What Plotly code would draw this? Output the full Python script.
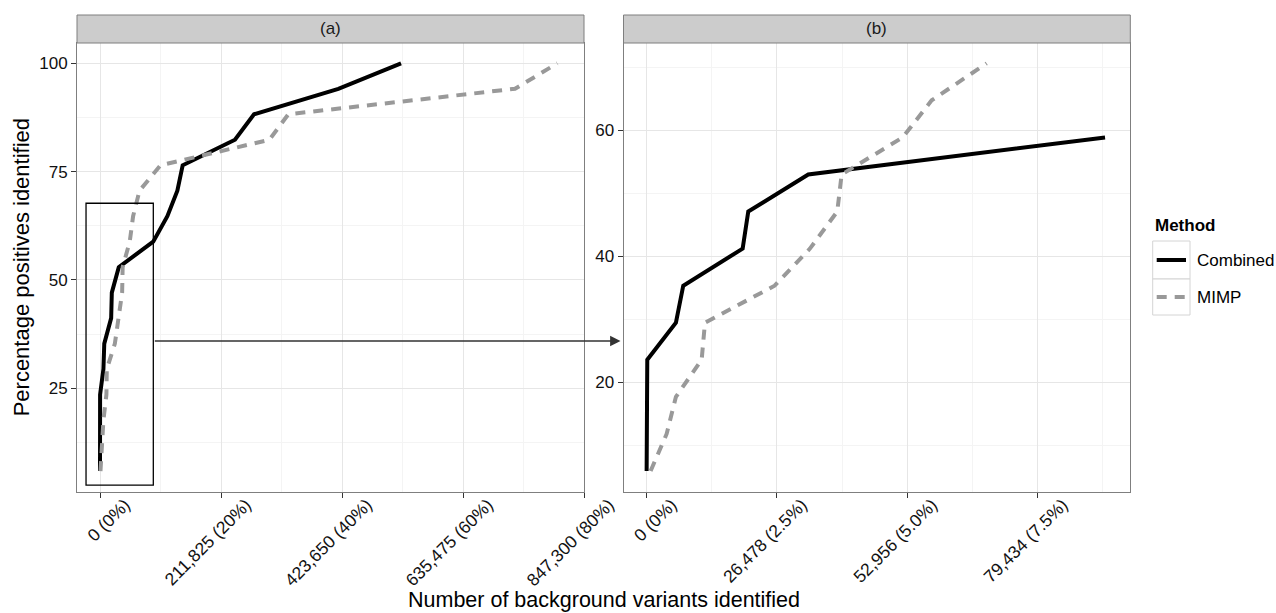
import plotly.graph_objects as go

W, H = 1276, 613

# Share of known positives recovered (%) at each cut-off
positives_pct = [5.88, 11.76, 17.65, 23.53, 29.41, 35.29, 41.18, 47.06, 52.94,
                 58.82, 64.71, 70.59, 76.47, 82.35, 88.24, 94.12, 100.0]

# Background variants called at the same cut-offs
combined_bg = [0, 40, 80, 130, 5950, 7440, 19510, 20650, 32840,
               93140, 117900, 135400, 144700, 236300, 269600, 417200, 527000]
mimp_bg = [810, 4060, 5950, 11180, 11850, 26000, 33180, 38730, 39620,
           52020, 57910, 69090, 106000, 296400, 329700, 726500, 800600]

methods = ["Combined", "MIMP"]
background = {"Combined": combined_bg, "MIMP": mimp_bg}

# panel (b) shows the low end of the background axis
zoom_limit = 100000

panel_titles = ["(a)", "(b)"]
x_ticks_a = [0, 211825, 423650, 635475, 847300]
x_labels_a = ["0 (0%)", "211,825 (20%)", "423,650 (40%)", "635,475 (60%)", "847,300 (80%)"]
x_ticks_b = [0, 26478, 52956, 79434]
x_labels_b = ["0 (0%)", "26,478 (2.5%)", "52,956 (5.0%)", "79,434 (7.5%)"]
y_ticks_a = [25, 50, 75, 100]
y_ticks_b = [20, 40, 60]

# region of panel (a) that is enlarged in panel (b)
box_x = [-24500, 93300]
box_y = [2.65, 67.7]
arrow_y = 35.9

# ---- layout geometry (pixels) ----
PX_A = (77, 584)
PX_B = (623.5, 1130.3)
PX_Y = (43, 491.7)          # plot area top / bottom
STRIP_TOP = 15
RANGE_XA = [-40300, 847300]
RANGE_XB = [-4700, 98270]
RANGE_YA = [1.11, 104.69]
RANGE_YB = [2.59, 73.81]

FONT = "Liberation Sans, Arial, Helvetica, sans-serif"
BORDER = "#7F7F7F"
GRID = "#E6E6E6"
GRID_MINOR = "#F4F4F4"

STYLE = {
    "Combined": dict(color="black", width=4, dash="solid"),
    "MIMP": dict(color="#999999", width=4, dash="10px,8px"),
}


def midpoints(vals, lo, hi):
    step = vals[1] - vals[0]
    pts = [vals[0] - step / 2] + [v + step / 2 for v in vals]
    return [p for p in pts if lo <= p <= hi]


def px_x(v, px_range, rng):
    return px_range[0] + (v - rng[0]) / (rng[1] - rng[0]) * (px_range[1] - px_range[0])


def px_y(v, rng):
    return PX_Y[1] - (v - rng[0]) / (rng[1] - rng[0]) * (PX_Y[1] - PX_Y[0])


fig = go.Figure()

for m in methods:
    xs = background[m]
    fig.add_trace(go.Scatter(x=xs, y=positives_pct, mode="lines", name=m,
                             line=STYLE[m], xaxis="x", yaxis="y",
                             showlegend=False, hoverinfo="skip"))
    keep = [i for i, v in enumerate(xs) if v <= zoom_limit]
    fig.add_trace(go.Scatter(x=[xs[i] for i in keep],
                             y=[positives_pct[i] for i in keep],
                             mode="lines", name=m, line=STYLE[m],
                             xaxis="x2", yaxis="y2",
                             showlegend=False, hoverinfo="skip"))


def axis_common(size):
    return dict(
        automargin=False,
        showline=True, mirror=True, linecolor=BORDER, linewidth=1,
        ticks="outside", ticklen=5, tickwidth=1, tickcolor="#333333",
        showgrid=True, gridcolor=GRID, gridwidth=1, zeroline=False,
        tickfont=dict(family=FONT, size=size, color="#111111"),
    )


def x_axis(px_range, rng, anchor, vals, labels):
    return dict(domain=[px_range[0] / W, px_range[1] / W], range=rng, anchor=anchor,
                tickmode="array", tickvals=vals, ticktext=labels,
                tickangle=-45, ticklabelshift=25, ticklabelstandoff=-10,
                minor=dict(tickmode="array", tickvals=midpoints(vals, *rng),
                           showgrid=True, gridcolor=GRID_MINOR, ticks=""),
                **axis_common(17.5))


def y_axis(rng, anchor, vals):
    return dict(domain=[1 - PX_Y[1] / H, 1 - PX_Y[0] / H], range=rng, anchor=anchor,
                tickmode="array", tickvals=vals,
                minor=dict(tickmode="array", tickvals=midpoints(vals, *rng),
                           showgrid=True, gridcolor=GRID_MINOR, ticks=""),
                **axis_common(17))


fig.update_layout(
    width=W, height=H,
    margin=dict(l=0, r=0, t=0, b=0, autoexpand=False),
    paper_bgcolor="white", plot_bgcolor="white",
    font=dict(family=FONT, color="black"),
    xaxis=x_axis(PX_A, RANGE_XA, "y", x_ticks_a, x_labels_a),
    yaxis=y_axis(RANGE_YA, "x", y_ticks_a),
    xaxis2=x_axis(PX_B, RANGE_XB, "y2", x_ticks_b, x_labels_b),
    yaxis2=y_axis(RANGE_YB, "x2", y_ticks_b),
)

shapes = []
annotations = []

# facet strips
for title, pxr in zip(panel_titles, [PX_A, PX_B]):
    shapes.append(dict(type="rect", xref="paper", yref="paper",
                       x0=pxr[0] / W, x1=pxr[1] / W,
                       y0=1 - PX_Y[0] / H, y1=1 - STRIP_TOP / H,
                       fillcolor="#CCCCCC", line=dict(color=BORDER, width=1)))
    annotations.append(dict(text=title, xref="paper", yref="paper",
                            x=(pxr[0] + pxr[1]) / 2 / W,
                            y=1 - (PX_Y[0] + STRIP_TOP) / 2 / H,
                            showarrow=False, xanchor="center", yanchor="middle",
                            font=dict(family=FONT, size=17, color="#1A1A1A")))

# enlarged-region box
shapes.append(dict(type="rect", xref="x", yref="y",
                   x0=box_x[0], x1=box_x[1], y0=box_y[0], y1=box_y[1],
                   line=dict(color="black", width=1.3), fillcolor="rgba(0,0,0,0)"))

# arrow from the box to panel (b)
tail_px = px_x(box_x[1], PX_A, RANGE_XA)
tip_px = PX_B[0] - 3
arrow_py = px_y(arrow_y, RANGE_YA)
annotations.append(dict(text="", xref="paper", yref="paper",
                        x=tip_px / W, y=1 - arrow_py / H,
                        axref="pixel", ayref="pixel", ax=-(tip_px - tail_px), ay=0,
                        showarrow=True, arrowhead=2, arrowsize=1.6, arrowwidth=1.3,
                        arrowcolor="#333333", standoff=0, startstandoff=0))

# axis titles
annotations.append(dict(text="Number of background variants identified",
                        xref="paper", yref="paper",
                        x=(PX_A[0] + PX_B[1]) / 2 / W, y=1 - 612.5 / H,
                        showarrow=False, xanchor="center", yanchor="bottom",
                        borderpad=0,
                        font=dict(family=FONT, size=21.5, color="black")))
annotations.append(dict(text="Percentage positives identified",
                        xref="paper", yref="paper",
                        x=21 / W, y=1 - (PX_Y[0] + PX_Y[1]) / 2 / H,
                        textangle=-90,
                        showarrow=False, xanchor="center", yanchor="middle",
                        font=dict(family=FONT, size=22, color="black")))

# legend
LEG_X0, LEG_X1 = 1152.7, 1190
LEG_ROWS = [(241, 279), (279, 315)]
annotations.append(dict(text="<b>Method</b>", xref="paper", yref="paper",
                        x=1153 / W, y=1 - 225 / H, showarrow=False,
                        xanchor="left", yanchor="middle",
                        font=dict(family=FONT, size=17, color="black")))
for m, (r0, r1) in zip(methods, LEG_ROWS):
    shapes.append(dict(type="rect", xref="paper", yref="paper",
                       x0=LEG_X0 / W, x1=LEG_X1 / W, y0=1 - r1 / H, y1=1 - r0 / H,
                       line=dict(color="#D4D4D4", width=1), fillcolor="white"))
    yc = (r0 + r1) / 2
    shapes.append(dict(type="line", xref="paper", yref="paper",
                       x0=(LEG_X0 + 4) / W, x1=(LEG_X1 - 4) / W,
                       y0=1 - yc / H, y1=1 - yc / H, line=STYLE[m]))
    annotations.append(dict(text=m, xref="paper", yref="paper",
                            x=1195 / W, y=1 - yc / H, showarrow=False,
                            xanchor="left", yanchor="middle",
                            font=dict(family=FONT, size=17, color="black")))

fig.update_layout(shapes=shapes, annotations=annotations)

fig.write_html("out.html")
